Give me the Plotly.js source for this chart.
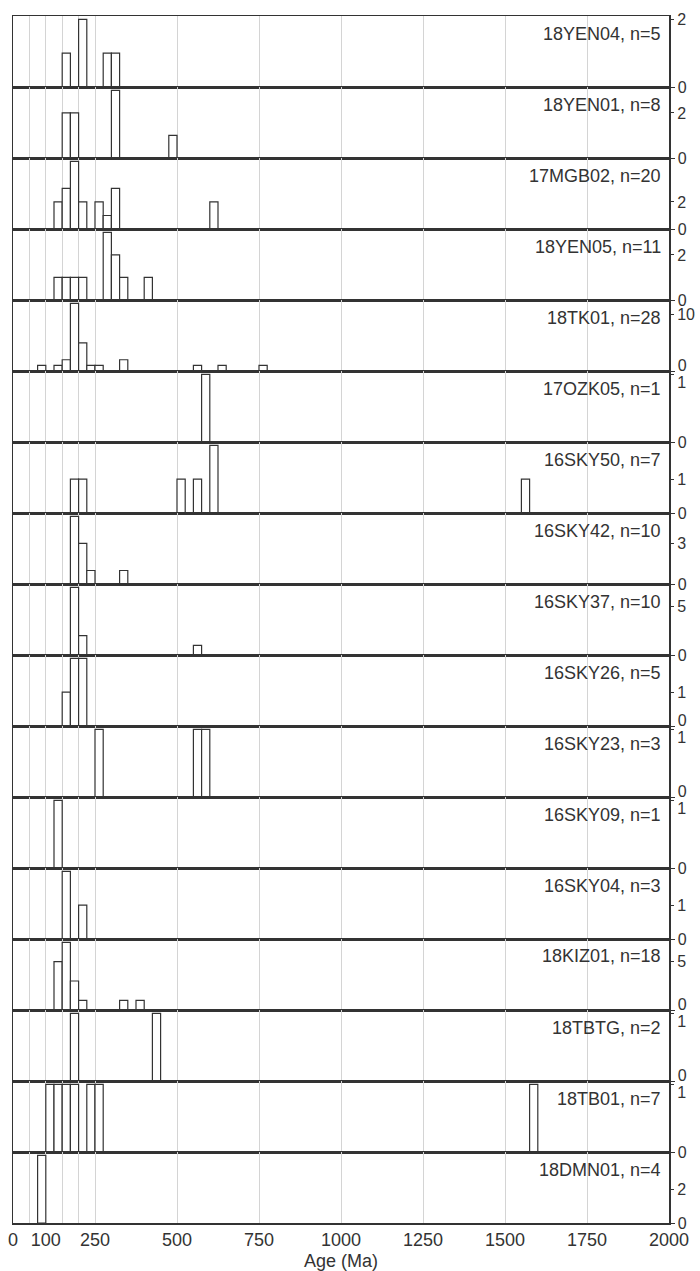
<!DOCTYPE html>
<html>
<head>
<meta charset="utf-8">
<script src="https://cdn.plot.ly/plotly-3.0.1.min.js"></script>
<style>
html, body { margin: 0; padding: 0; background: #ffffff; }
#chart { width: 700px; height: 1271px; }
</style>
</head>
<body>
<div id="chart"></div>
<script>
// ---- data (bin start ages in Ma, 25 Ma bins; counts per bin) ----
const samples   = ['18YEN04','18YEN01','17MGB02','18YEN05','18TK01','17OZK05','16SKY50','16SKY42','16SKY37','16SKY26','16SKY23','16SKY09','16SKY04','18KIZ01','18TBTG','18TB01','18DMN01'];
const sampleN   = [5, 8, 20, 11, 28, 1, 7, 10, 10, 5, 3, 1, 3, 18, 2, 7, 4];
const yTickTop  = [2, 2, 2, 2, 10, 1, 1, 3, 5, 1, 1, 1, 1, 5, 1, 1, 2];

const bins_18YEN04 = [150, 200, 275, 300];
const counts_18YEN04 = [1, 2, 1, 1];
const bins_18YEN01 = [150, 175, 300, 475];
const counts_18YEN01 = [2, 2, 3, 1];
const bins_17MGB02 = [125, 150, 175, 200, 250, 275, 300, 600];
const counts_17MGB02 = [2, 3, 5, 2, 2, 1, 3, 2];
const bins_18YEN05 = [125, 150, 175, 200, 275, 300, 325, 400];
const counts_18YEN05 = [1, 1, 1, 1, 3, 2, 1, 1];
const bins_18TK01 = [75, 125, 150, 175, 200, 225, 250, 325, 550, 625, 750];
const counts_18TK01 = [1, 1, 2, 12, 5, 1, 1, 2, 1, 1, 1];
const bins_17OZK05 = [575];
const counts_17OZK05 = [1];
const bins_16SKY50 = [175, 200, 500, 550, 600, 1550];
const counts_16SKY50 = [1, 1, 1, 1, 2, 1];
const bins_16SKY42 = [175, 200, 225, 325];
const counts_16SKY42 = [5, 3, 1, 1];
const bins_16SKY37 = [175, 200, 550];
const counts_16SKY37 = [7, 2, 1];
const bins_16SKY26 = [150, 175, 200];
const counts_16SKY26 = [1, 2, 2];
const bins_16SKY23 = [250, 550, 575];
const counts_16SKY23 = [1, 1, 1];
const bins_16SKY09 = [125];
const counts_16SKY09 = [1];
const bins_16SKY04 = [150, 200];
const counts_16SKY04 = [2, 1];
const bins_18KIZ01 = [125, 150, 175, 200, 325, 375];
const counts_18KIZ01 = [5, 7, 3, 1, 1, 1];
const bins_18TBTG = [175, 425];
const counts_18TBTG = [1, 1];
const bins_18TB01 = [100, 125, 150, 175, 225, 250, 1575];
const counts_18TB01 = [1, 1, 1, 1, 1, 1, 1];
const bins_18DMN01 = [75];
const counts_18DMN01 = [4];

const binWidth = 25;
const xTickVals = [0, 50, 100, 150, 200, 250, 500, 750, 1000, 1250, 1500, 1750, 2000];
const xTickText = ['0', '', '100', '', '', '250', '500', '750', '1000', '1250', '1500', '1750', '2000'];

const allBins = [bins_18YEN04, bins_18YEN01, bins_17MGB02, bins_18YEN05, bins_18TK01, bins_17OZK05, bins_16SKY50, bins_16SKY42, bins_16SKY37, bins_16SKY26, bins_16SKY23, bins_16SKY09, bins_16SKY04, bins_18KIZ01, bins_18TBTG, bins_18TB01, bins_18DMN01];
const allCounts = [counts_18YEN04, counts_18YEN01, counts_17MGB02, counts_18YEN05, counts_18TK01, counts_17OZK05, counts_16SKY50, counts_16SKY42, counts_16SKY37, counts_16SKY26, counts_16SKY23, counts_16SKY09, counts_16SKY04, counts_18KIZ01, counts_18TBTG, counts_18TB01, counts_18DMN01];

// ---- build figure ----
const FONT = 'Liberation Sans, Arial, Helvetica, sans-serif';
const INK = '#333333';
const nP = samples.length;
const traces = [];
const layout = {
  width: 700, height: 1271,
  margin: { l: 13, r: 31, t: 16, b: 48 },
  paper_bgcolor: '#ffffff', plot_bgcolor: '#ffffff',
  showlegend: false,
  font: { family: FONT, color: INK, size: 16 },
  annotations: [],
  xaxis: {
    range: [0, 2000], anchor: 'y' + nP,
    tickmode: 'array', tickvals: xTickVals, ticktext: xTickText,
    ticks: '', showgrid: true, gridcolor: '#d4d4d4', gridwidth: 1,
    showline: true, linecolor: INK, linewidth: 1.5, mirror: 'all',
    zeroline: false, tickfont: { size: 18, color: INK, family: FONT },
    title: { text: 'Age (Ma)', font: { size: 18, color: INK, family: FONT }, standoff: 6 },
    fixedrange: true
  }
};

const maxes = allCounts.map(c => Math.max.apply(null, c));
const ranges = maxes.map(m => m * 1.05);
const collides = yTickTop.map((t, i) => i > 0 && t / ranges[i] > 0.9);

for (let i = 0; i < nP; i++) {
  const baseId = i + 1;
  const ovId = nP + 1 + i;
  const yName = baseId === 1 ? 'y' : 'y' + baseId;
  const yKey = baseId === 1 ? 'yaxis' : 'yaxis' + baseId;
  const dom = [1 - (i + 1) / nP, 1 - i / nP];

  traces.push({
    type: 'bar', x: allBins[i], y: allCounts[i],
    width: binWidth, offset: 0,
    xaxis: 'x', yaxis: yName,
    marker: { color: '#ffffff', line: { color: INK, width: 1.2 } },
    hoverinfo: 'skip'
  });
  // carrier trace so that the overlaid tick axis (upper tick) is drawn
  traces.push({
    type: 'scatter', mode: 'markers', x: [], y: [],
    xaxis: 'x', yaxis: 'y' + ovId, hoverinfo: 'skip',
    marker: { opacity: 0 }
  });

  // positive shift moves a y label down on screen
  const zeroShift = (i + 1 < nP && collides[i + 1]) ? -6 : 0;
  layout[yKey] = {
    domain: dom, range: [0, ranges[i]], anchor: 'x', side: 'right',
    tickmode: 'array', tickvals: [0], ticktext: ['0'],
    ticks: 'outside', ticklen: 4, tickcolor: INK, tickwidth: 1,
    ticklabelshift: zeroShift,
    showline: true, linecolor: INK, linewidth: 1.5, mirror: true,
    showgrid: false, zeroline: false,
    tickfont: { size: 16, color: INK, family: FONT }, fixedrange: true
  };
  layout['yaxis' + ovId] = {
    overlaying: yName, range: [0, ranges[i]], anchor: 'x', side: 'right',
    tickmode: 'array', tickvals: [yTickTop[i]], ticktext: [String(yTickTop[i])],
    ticks: 'outside', ticklen: 4, tickcolor: INK, tickwidth: 1,
    ticklabelshift: collides[i] ? 8 : 0,
    showline: false, showgrid: false, zeroline: false,
    tickfont: { size: 16, color: INK, family: FONT }, fixedrange: true
  };

  layout.annotations.push({
    text: samples[i] + ', n=' + sampleN[i],
    xref: 'paper', x: 1, xanchor: 'right', xshift: -6,
    yref: yName + ' domain', y: 1, yanchor: 'middle', yshift: -17.5,
    showarrow: false, font: { size: 18, color: INK, family: FONT }
  });
}

Plotly.newPlot('chart', traces, layout, { displayModeBar: false, staticPlot: true, responsive: false });
</script>
</body>
</html>
